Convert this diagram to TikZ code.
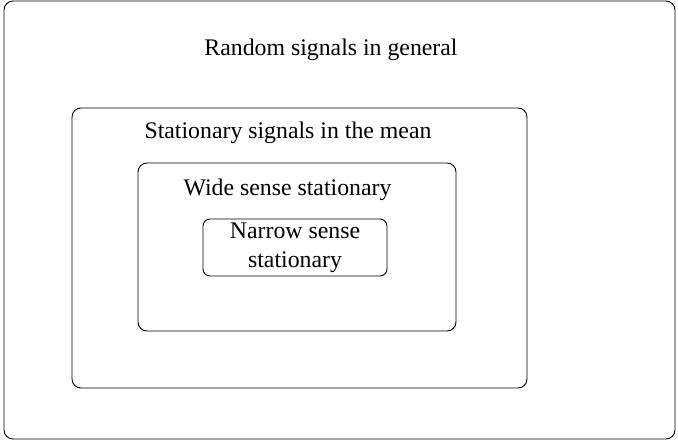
\documentclass[tikz,border=0pt]{standalone}
\usepackage{fontspec}
\setmainfont{Liberation Serif}
\usetikzlibrary{positioning}

\begin{document}
\begin{tikzpicture}[x=1pt,y=-1pt]
\tikzset{region/.style = {shape=rectangle,draw,line width=0.9pt,rounded corners=9pt,inner sep=0pt}}
\tikzset{title/.style = {font=\fontsize{23.8}{29}\selectfont,align=center,inner sep=0pt}}
\useasboundingbox (0,0) rectangle (678,442);
%regions
\node[region,minimum width=671,minimum height=438] (all) at (339.5,220) {};
\node[region,minimum width=455,minimum height=280] (mean) at (299.5,248) {};
\node[region,minimum width=318,minimum height=168] (wide) at (297,247) {};
\node[region,minimum width=184,minimum height=57,rounded corners=7pt] (narrow) at (295,247.5) {};

%labels
\node[title] (lall) at (331,50) {Random signals in general};
\node[title] (lmean) at (288,133) {Stationary signals in the mean};
\node[title] (lwide) at (287.5,190) {Wide sense stationary};
\node[title] (lnarrow) at (295,247.5) {Narrow sense\\stationary};
\end{tikzpicture}
\end{document}
